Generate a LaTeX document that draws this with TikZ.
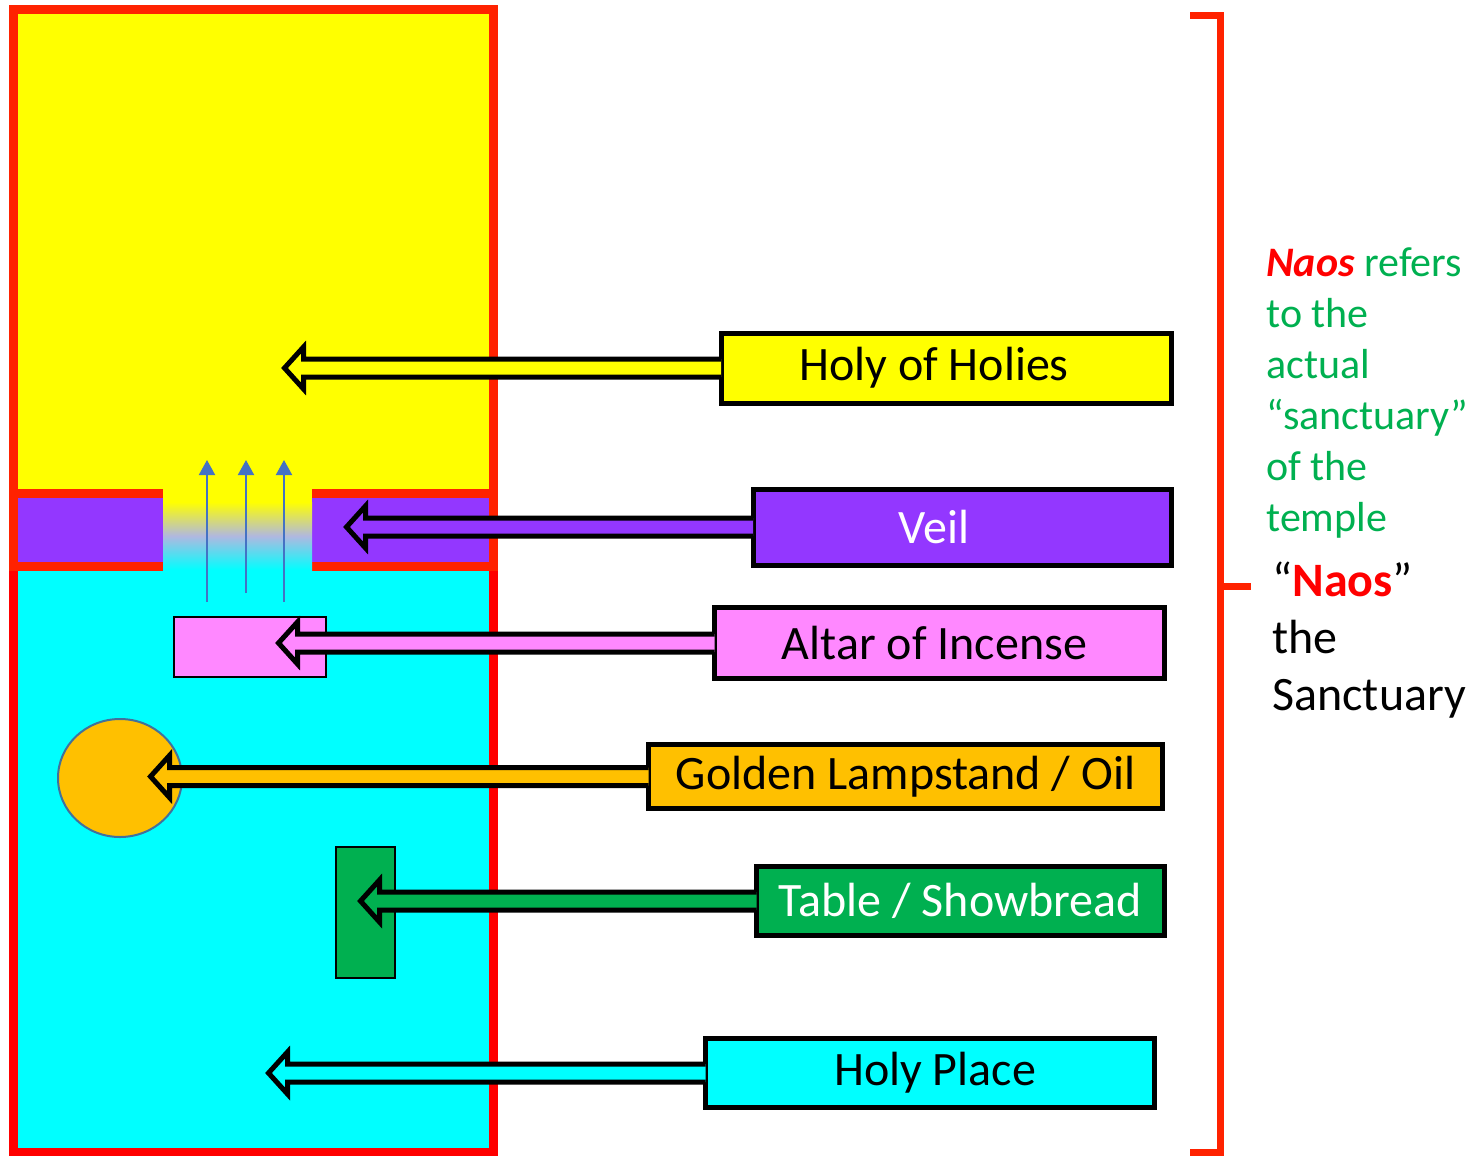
\documentclass[tikz,border=0pt]{standalone}
\usepackage{fontspec}
\setmainfont{Carlito}
\usepackage{xcolor}
\usepackage{tikz}
\usetikzlibrary{positioning,calc,arrows.meta,shapes.geometric}

\definecolor{framered}{RGB}{255,34,0}
\definecolor{pagered}{RGB}{255,0,0}
\definecolor{holyyellow}{RGB}{255,255,0}
\definecolor{placecyan}{RGB}{0,255,255}
\definecolor{veilpurple}{RGB}{147,55,255}
\definecolor{altarpink}{RGB}{255,136,255}
\definecolor{lampgold}{RGB}{255,192,0}
\definecolor{breadgreen}{RGB}{0,176,80}
\definecolor{smokeblue}{RGB}{68,114,196}
\definecolor{rimblue}{RGB}{65,113,156}
\definecolor{mistlilac}{RGB}{176,184,224}

\tikzset{
  labelbox/.style={draw=black, line width=2.5pt, inner sep=0pt, font=\fontsize{24pt}{28pt}\selectfont},
  itembox/.style={draw=black, line width=1pt},
  smoke/.style={smokeblue, line width=1pt, -{Triangle[width=8pt,length=7.5pt]}},
  wall/.style={line width=4.5pt},
  greennote/.style={text=breadgreen, align=left, inner sep=0pt, anchor=north west, font=\fontsize{21pt}{25.5pt}\selectfont},
  blacknote/.style={text=black, align=left, inner sep=0pt, anchor=north west, font=\fontsize{24pt}{28.5pt}\selectfont},
}

% block arrow from a label box to a tip
\newcommand{\pointer}[3]{%
  \coordinate (#1-tip) at (#2 |- #1.west);
  \path[fill=#3, draw=black, line width=2.5pt, line join=miter]
    ($(#1.west)+(2.5,-9)$) -- ($(#1-tip)+(19,-9)$) -- ($(#1-tip)+(19,-21)$)
    -- (#1-tip) -- ($(#1-tip)+(19,21)$) -- ($(#1-tip)+(19,9)$)
    -- ($(#1.west)+(2.5,9)$);
}

\begin{document}
\begin{tikzpicture}[x=0.5pt,y=-0.5pt]

    \useasboundingbox (0,0) rectangle (1475,1155);

    % the sanctuary
    \draw[wall, draw=pagered, fill=placecyan] (13,566) rectangle (493,1152);
    \draw[wall, draw=framered, fill=holyyellow] (13,10) rectangle (493,493);
    \draw[wall, draw=framered, fill=veilpurple] (13,493) rectangle (493,566);

    % opening in the veil
    \fill[holyyellow] (163,484) rectangle (312,502);
    \shade[top color=holyyellow, bottom color=placecyan, middle color=mistlilac] (163,502) rectangle (312,570);
    \fill[placecyan] (163,570) rectangle (312,576);

    \draw[smoke] (207,602) -- (207,460);
    \draw[smoke] (246,593) -- (246,460);
    \draw[smoke] (284,602) -- (284,460);

    % furniture
    \node[itembox, fill=altarpink, minimum width=76pt, minimum height=30pt] (altar) at (250,647) {};
    \node[ellipse, draw=rimblue, line width=1pt, fill=lampgold, inner sep=0pt, minimum width=62pt, minimum height=59pt] (lamp) at (120,778) {};
    \node[itembox, fill=breadgreen, minimum width=29.5pt, minimum height=65.5pt] (bread) at (365.5,912.5) {};

    \coordinate (holytip) at (284.5,368);
    \coordinate (veiltip) at (346.5,527);
    \coordinate (altartip) at (278.5,643);
    \coordinate (lamptip) at (150.5,776);
    \coordinate (breadtip) at (360.5,901);
    \coordinate (placetip) at (268.5,1072);

    % labels
    \node[labelbox, fill=holyyellow, minimum width=225pt, minimum height=35pt] (HoHo) at (946,368) {Holy of Holies\hspace*{12pt}};
    \node[labelbox, fill=veilpurple, text=white, minimum width=209pt, minimum height=38pt] (Ve) at (962,527) {Veil\hspace*{28pt}};
    \node[labelbox, fill=altarpink, minimum width=225pt, minimum height=35.5pt] (AlIn) at (939.5,643) {Altar of Incense\hspace*{5pt}};
    \node[labelbox, fill=lampgold, minimum width=257pt, minimum height=32pt] (GoLa) at (905.5,776.5) {Golden Lampstand / Oil};
    \node[labelbox, fill=breadgreen, text=white, minimum width=204pt, minimum height=34.5pt] (TaSh) at (960.5,901) {Table / Showbread};
    \node[labelbox, fill=placecyan, minimum width=224.5pt, minimum height=34.5pt] (HoPl) at (930,1073) {Holy Place\hspace*{-5pt}};

    \pointer{HoHo}{holytip}{holyyellow}
    \pointer{Ve}{veiltip}{veilpurple}
    \pointer{AlIn}{altartip}{altarpink}
    \pointer{GoLa}{lamptip}{lampgold}
    \pointer{TaSh}{breadtip}{breadgreen}
    \pointer{HoPl}{placetip}{placecyan}

    % bracket
    \draw[framered, line width=3.5pt] (1190,16) -- (1220,16) -- (1220,1152) -- (1190,1152);
    \draw[framered, line width=3.5pt] (1220,586) -- (1251,586);

    \node[greennote] (NaRe) at (1266,247) {\textcolor{pagered}{\textbf{\textit{Naos}}} refers\\to the\\actual\\“sanctuary”\\of the\\temple};
    \node[blacknote] (NaSa) at (1272,561) {“\textcolor{pagered}{\textbf{Naos}}”\\the\\Sanctuary};

\end{tikzpicture}
\end{document}
